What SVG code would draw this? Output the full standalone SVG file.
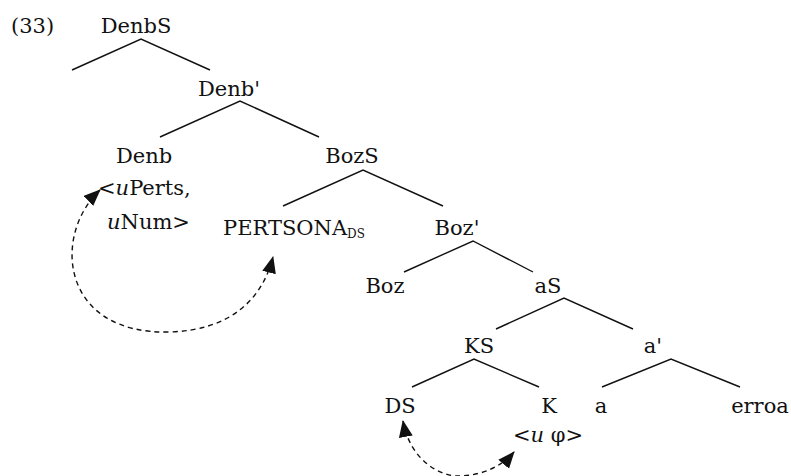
<svg xmlns="http://www.w3.org/2000/svg" width="791" height="476" viewBox="0 0 791 476">
<defs>
<style>
text{font-family:"DejaVu Serif","Liberation Serif",serif;font-size:21px;fill:#111;}
.m{text-anchor:middle;}
.sub{font-size:12px;}
.edge{stroke:#111;stroke-width:1.4;fill:none;}
.dash{stroke:#111;stroke-width:1.4;fill:none;stroke-dasharray:5,4;}
</style>
<marker id="ah" viewBox="0 0 17 14" refX="16" refY="7" markerWidth="17" markerHeight="14" markerUnits="userSpaceOnUse" orient="auto-start-reverse">
<path d="M0,0 L17,7 L0,14 Z" fill="#111"/>
</marker>
</defs>
<rect width="791" height="476" fill="#fff"/>
<text id="label33" x="11" y="33">(33)</text>
<g id="DenbS"><text class="m" x="136" y="33">DenbS</text></g>
<g id="Denb1"><text class="m" x="229" y="96">Denb'</text></g>
<g id="Denb"><text class="m" x="144" y="163">Denb</text><text x="98" y="195">&lt;<tspan font-style="italic">u</tspan>Perts,</text><text x="107" y="229"><tspan font-style="italic">u</tspan>Num&gt;</text></g>
<g id="BozS"><text class="m" x="352" y="163">BozS</text></g>
<g id="PERTSONA"><text x="223" y="235">PERTSONA<tspan class="sub" dy="3">DS</tspan></text></g>
<g id="Boz1"><text class="m" x="457" y="235">Boz'</text></g>
<g id="Boz"><text class="m" x="385" y="293">Boz</text></g>
<g id="aS"><text class="m" x="548" y="293">aS</text></g>
<g id="KS"><text class="m" x="479" y="353">KS</text></g>
<g id="a1"><text class="m" x="653" y="353">a'</text></g>
<g id="DS"><text class="m" x="400" y="413">DS</text></g>
<g id="K"><text class="m" x="549" y="413">K</text><text class="m" x="548" y="442">&lt;<tspan font-style="italic">u</tspan> φ&gt;</text></g>
<g id="a"><text class="m" x="601" y="413">a</text></g>
<g id="erroa"><text class="m" x="760" y="413">erroa</text></g>
<g id="connectors">
<path class="edge" d="M72,70 L141,39 L210,70"/>
<path class="edge" d="M160,137 L240,101 L319,137"/>
<path class="edge" d="M283,206 L363,170 L443,206"/>
<path class="edge" d="M404,272 L473,241 L533,272"/>
<path class="edge" d="M496,329 L564,298 L633,329"/>
<path class="edge" d="M412,387 L474,359 L539,387"/>
<path class="edge" d="M602,387 L671,359 L740,387"/>
<path class="dash" d="M100,190 C52,235 60,335 170,332 C230,330 262,300 273,257" marker-start="url(#ah)" marker-end="url(#ah)"/>
<path class="dash" d="M403,421 C410,460 440,477 460,476 C485,475 503,465 514,452" marker-start="url(#ah)" marker-end="url(#ah)"/>
</g>
</svg>
